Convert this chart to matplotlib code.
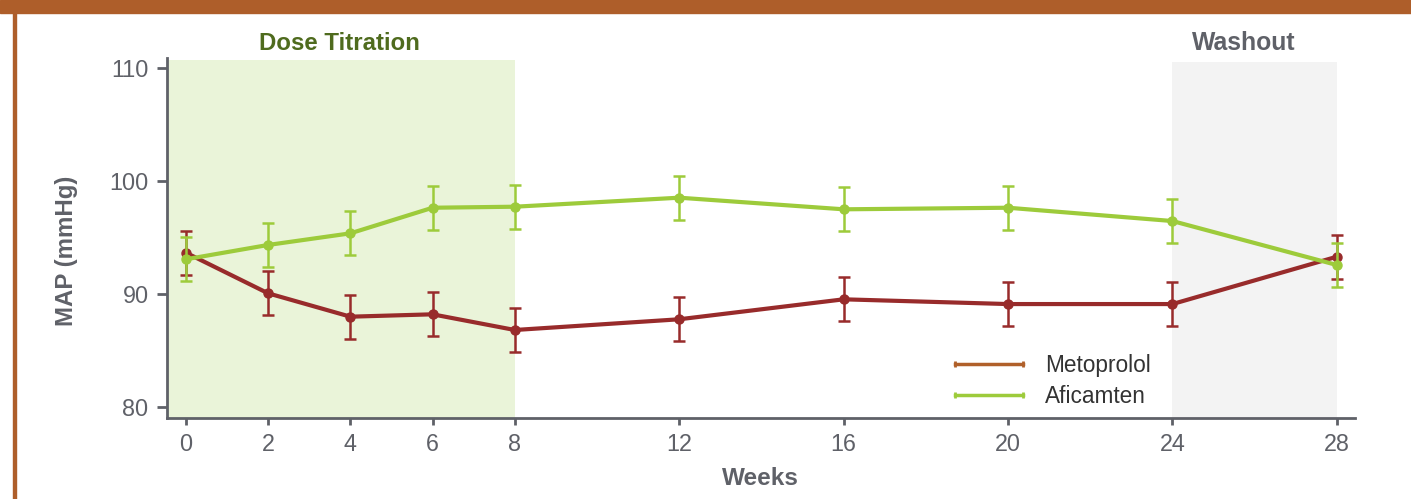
import numpy as np
import matplotlib.pyplot as plt
from matplotlib.lines import Line2D
from matplotlib.patches import Rectangle

plt.rcParams['font.family'] = ['Liberation Sans', 'DejaVu Sans']

# mean arterial pressure by study week
weeks = [0, 2, 4, 6, 8, 12, 16, 20, 24, 28]
metoprolol = [93.65, 90.05, 87.98, 88.19, 86.8, 87.75, 89.52, 89.1, 89.1, 93.3]
metoprolol_se = [1.95, 1.95, 1.95, 1.95, 1.95, 1.95, 1.95, 1.95, 1.95, 1.95]
aficamten = [93.07, 94.34, 95.37, 97.64, 97.73, 98.53, 97.5, 97.64, 96.46, 92.56]
aficamten_se = [1.95, 1.95, 1.95, 1.95, 1.95, 1.95, 1.95, 1.95, 1.95, 1.95]

red = '#982B2B'
green = '#9DCB3B'
legend_orange = '#B0602A'
grey = '#5F6168'
frame_orange = '#AE5E2A'

fig = plt.figure(figsize=(14.11, 4.99), dpi=100)
ax = fig.add_axes([0.1181, 0.1617, 0.8422, 0.7215])

x_lo, x_hi = -0.47, 28.44
ax.set_xlim(x_lo, x_hi)
ax.set_ylim(78.97, 110.89)

# study phases
ax.fill_between([x_lo, 8], 78.97, 110.75, color='#EAF4D9', lw=0, zorder=0)
ax.fill_between([24, 28], 78.97, 110.6, color='#F3F3F3', lw=0, zorder=0)
ax.text(3.73, 111.2, 'Dose Titration', color='#4F6B1E', fontsize=17.3,
        fontweight='bold', ha='center', va='bottom', clip_on=False)
ax.text(25.74, 111.2, 'Washout', color=grey, fontsize=17.8,
        fontweight='bold', ha='center', va='bottom', clip_on=False)

ax.errorbar(weeks, metoprolol, yerr=metoprolol_se, color=red, lw=3,
            marker='o', ms=6.5, elinewidth=1.8, capsize=4.5, capthick=1.8,
            zorder=3)
ax.errorbar(weeks, aficamten, yerr=aficamten_se, color=green, lw=3,
            marker='o', ms=6.5, elinewidth=1.8, capsize=4.5, capthick=1.8,
            zorder=4)

ax.set_xticks(weeks)
ax.set_yticks([80, 90, 100, 110])
ax.tick_params(axis='x', colors=grey, labelsize=16.8, length=5, width=2, pad=5.5)
ax.tick_params(axis='y', colors=grey, labelsize=16.8, length=7, width=2, pad=6)
for side in ['top', 'right']:
    ax.spines[side].set_visible(False)
for side in ['left', 'bottom']:
    ax.spines[side].set_color(grey)
    ax.spines[side].set_linewidth(2)

ax.set_xlabel('Weeks', color=grey, fontsize=17.5, fontweight='bold', labelpad=8)
fig.text(66 / 1411, 1 - 251 / 499, 'MAP (mmHg)', rotation=90, color=grey,
         fontsize=17.3, fontweight='bold', ha='center', va='center')

handles = [
    Line2D([], [], color=legend_orange, lw=2.5, marker='|', ms=5, mew=2),
    Line2D([], [], color=green, lw=2.5, marker='|', ms=5, mew=2),
]
ax.legend(handles, ['Metoprolol', 'Aficamten'], loc='center left',
          bbox_to_anchor=(948 / 1411, 1 - 381 / 499),
          bbox_transform=fig.transFigure, frameon=False, fontsize=16.3,
          numpoints=2, handlelength=3.6, handletextpad=0.69,
          labelspacing=0.33, borderpad=0, borderaxespad=0,
          labelcolor='#333333')

# page frame
fig.patches.append(Rectangle((0, 1 - 13 / 499), 1, 13 / 499,
                             transform=fig.transFigure, color=frame_orange,
                             zorder=0))
fig.patches.append(Rectangle((13 / 1411, 0), 3 / 1411, 1 - 13 / 499,
                             transform=fig.transFigure, color=frame_orange,
                             zorder=0))

fig.savefig('out.png', dpi=100)
